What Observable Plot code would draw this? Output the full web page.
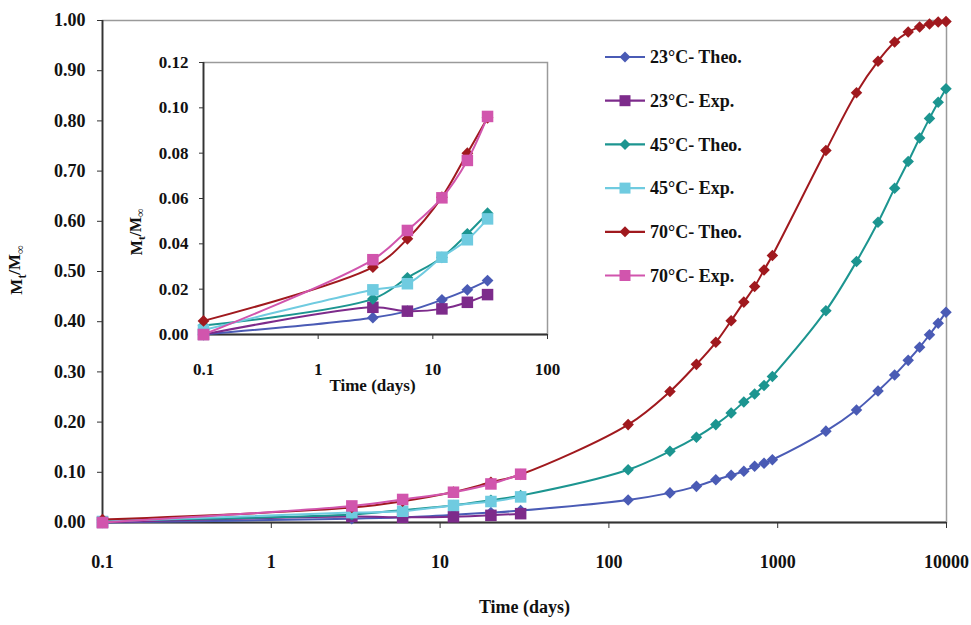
<!DOCTYPE html>
<html>
<head>
<meta charset="utf-8">
<script src="https://cdn.jsdelivr.net/npm/d3@7"></script>
<script src="https://cdn.jsdelivr.net/npm/@observablehq/plot@0.6"></script>
<style>
  html, body { margin: 0; padding: 0; background: #fff; }
  #wrap { position: relative; width: 971px; height: 625px; overflow: hidden; }
  #main, #inset { position: absolute; }
  #main { left: 0; top: 0; }
  #inset { left: 120px; top: 40px; }
  svg text { font-family: "Liberation Serif", serif; font-weight: bold; }
</style>
</head>
<body>
<div id="wrap"><div id="main"></div><div id="inset"></div></div>
<script>
// ---- data ----
const seriesNames = ["23°C- Theo.", "23°C- Exp.", "45°C- Theo.", "45°C- Exp.", "70°C- Theo.", "70°C- Exp."];
const seriesColors = ["#4a5bb5", "#7d2b8b", "#1c9590", "#6fcbe0", "#a0191e", "#d155ad"];
const seriesKinds = ["theo", "exp", "theo", "exp", "theo", "exp"];

const timesTheo = [0.1, 3, 6, 12, 20, 30, 130, 230, 330, 430, 530, 630, 730, 830, 930,
                   1930, 2930, 3930, 4930, 5930, 6930, 7930, 8930, 9930];
const timesExp = [0.1, 3, 6, 12, 20, 30];

const theo23 = [0.000, 0.0074, 0.0103, 0.0153, 0.0197, 0.0238, 0.045, 0.059, 0.072, 0.085, 0.094, 0.102,
                0.112, 0.118, 0.125, 0.182, 0.224, 0.262, 0.294, 0.323, 0.349, 0.374, 0.397, 0.419];
const exp23 = [0.000, 0.0120, 0.0103, 0.0113, 0.0142, 0.0176];
const theo45 = [0.004, 0.0157, 0.0250, 0.0340, 0.0444, 0.0535, 0.105, 0.142, 0.170, 0.195, 0.218, 0.240,
                0.256, 0.273, 0.291, 0.422, 0.520, 0.598, 0.666, 0.719, 0.766, 0.805, 0.837, 0.864];
const exp45 = [0.002, 0.0197, 0.0224, 0.0341, 0.0418, 0.0510];
const theo70 = [0.006, 0.0297, 0.0422, 0.0606, 0.0800, 0.0956, 0.195, 0.261, 0.315, 0.359, 0.402, 0.439,
                0.470, 0.503, 0.532, 0.741, 0.856, 0.919, 0.957, 0.977, 0.987, 0.993, 0.997, 0.998];
const exp70 = [0.000, 0.0330, 0.0459, 0.0603, 0.0768, 0.0962];

const mainXTicks = [0.1, 1, 10, 100, 1000, 10000];
const mainXTickLabels = ["0.1", "1", "10", "100", "1000", "10000"];
const mainYTicks = [0, 0.1, 0.2, 0.3, 0.4, 0.5, 0.6, 0.7, 0.8, 0.9, 1.0];
const insetXTicks = [0.1, 1, 10, 100];
const insetXTickLabels = ["0.1", "1", "10", "100"];
const insetYTicks = [0, 0.02, 0.04, 0.06, 0.08, 0.10, 0.12];
const xTitle = "Time (days)";

// ---- build table ----
const seriesValues = [theo23, exp23, theo45, exp45, theo70, exp70];
const rows = [];
seriesNames.forEach((name, i) => {
  const ts = seriesKinds[i] === "theo" ? timesTheo : timesExp;
  seriesValues[i].forEach((v, j) => rows.push({series: name, kind: seriesKinds[i], t: ts[j], v}));
});

function seriesMarks(data, rSquare, rDiamond, sw) {
  const marks = [];
  seriesNames.forEach((name, i) => {
    const d = data.filter(r => r.series === name);
    marks.push(Plot.line(d, {x: "t", y: "v", stroke: seriesColors[i], strokeWidth: sw, curve: "catmull-rom"}));
    if (seriesKinds[i] === "theo") {
      marks.push(Plot.dot(d, {x: "t", y: "v", fill: seriesColors[i], symbol: "diamond2", r: rDiamond}));
    } else {
      marks.push(Plot.dot(d, {x: "t", y: "v", fill: seriesColors[i], symbol: "square", r: rSquare}));
    }
  });
  return marks;
}

const baseStyle = {fontFamily: "Liberation Serif", fontSize: "18px", fontWeight: "bold", color: "#111", background: "transparent", overflow: "visible"};

// ---- main chart ----
const main = Plot.plot({
  width: 971, height: 625,
  marginLeft: 102, marginRight: 25, marginTop: 20, marginBottom: 103,
  style: baseStyle,
  x: {type: "log", domain: [0.1, 10000]},
  y: {domain: [0, 1]},
  marks: [
    Plot.frame({stroke: "#9a9a9a", strokeWidth: 1.5}),
    Plot.ruleY([0], {stroke: "#333", strokeWidth: 1.8}),
    Plot.ruleX([0.1], {stroke: "#333", strokeWidth: 1.8}),
    Plot.axisY({ticks: mainYTicks, tickFormat: d3.format(".2f"), tickSize: 5, tickPadding: 12, label: null, stroke: "#333"}),
    Plot.axisX({ticks: mainXTicks, tickFormat: d => mainXTickLabels[mainXTicks.indexOf(d)], tickSize: 6, tickPadding: 27, label: null, stroke: "#333"}),
    Plot.text([xTitle], {frameAnchor: "bottom", dy: 90, fontSize: 18, fontWeight: "bold"}),
    ...seriesMarks(rows, 6.5, 5.2, 2)
  ]
});
document.getElementById("main").appendChild(main);

// y-axis title with subscripts
function addYTitle(svg, x, y, size) {
  const t = d3.select(svg).append("text")
    .attr("transform", `translate(${x},${y}) rotate(-90)`)
    .attr("text-anchor", "middle")
    .attr("font-size", size)
    .attr("font-family", "Liberation Serif")
    .attr("font-weight", "bold")
    .attr("fill", "#111");
  t.append("tspan").text("M");
  t.append("tspan").attr("dy", "0.3em").attr("font-size", size * 0.7).text("t");
  t.append("tspan").attr("dy", "-0.3em").text("/M");
  t.append("tspan").attr("dy", "0.3em").attr("font-size", size * 0.7).text("∞");
}
addYTitle(main, 22, 270, 17);

// legend
const lg = d3.select(main).append("g").attr("transform", "translate(605,57)");
seriesNames.forEach((name, i) => {
  const g = lg.append("g").attr("transform", `translate(0,${i * 43.7})`);
  g.append("line").attr("x1", 0).attr("x2", 40).attr("y1", 0).attr("y2", 0)
    .attr("stroke", seriesColors[i]).attr("stroke-width", 2.2);
  if (seriesKinds[i] === "theo") {
    g.append("path").attr("d", "M20,-5.5L25.5,0L20,5.5L14.5,0Z").attr("fill", seriesColors[i]);
  } else {
    g.append("rect").attr("x", 14.5).attr("y", -5.5).attr("width", 11).attr("height", 11).attr("fill", seriesColors[i]);
  }
  g.append("text").attr("x", 45).attr("y", 0).attr("dy", "0.35em")
    .attr("text-anchor", "start")
    .attr("font-size", 18).attr("font-family", "Liberation Serif").attr("font-weight", "bold")
    .attr("fill", "#111").text(name);
});

// ---- inset chart ----
const insetRows = rows.filter(r => r.t <= 30);
const inset = Plot.plot({
  width: 460, height: 370,
  marginLeft: 83, marginRight: 33, marginTop: 22, marginBottom: 76,
  style: {...baseStyle, fontSize: "17px"},
  x: {type: "log", domain: [0.1, 100]},
  y: {domain: [0, 0.12]},
  marks: [
    Plot.frame({stroke: "#9a9a9a", strokeWidth: 1.5}),
    Plot.ruleY([0], {stroke: "#333", strokeWidth: 1.8}),
    Plot.ruleX([0.1], {stroke: "#333", strokeWidth: 1.8}),
    Plot.axisY({ticks: insetYTicks, tickFormat: d3.format(".2f"), tickSize: 4, tickPadding: 11, label: null, stroke: "#333"}),
    Plot.axisX({ticks: insetXTicks, tickFormat: d => insetXTickLabels[insetXTicks.indexOf(d)], tickSize: 5, tickPadding: 23, label: null, stroke: "#333"}),
    Plot.text([xTitle], {frameAnchor: "bottom", dy: 56, dx: -3, fontSize: 17, fontWeight: "bold"}),
    ...seriesMarks(insetRows, 6.5, 5.3, 2)
  ]
});
document.getElementById("inset").appendChild(inset);
addYTitle(inset, 22, 192, 16);
</script>
</body>
</html>
